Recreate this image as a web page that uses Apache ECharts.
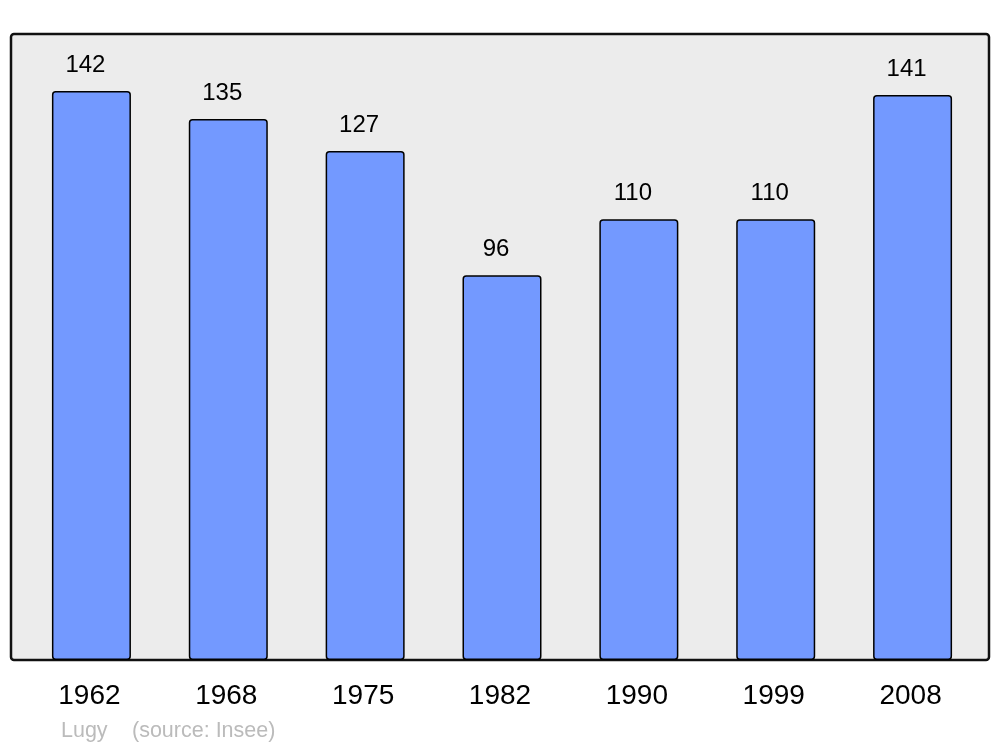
<!DOCTYPE html>
<html>
<head>
<meta charset="utf-8">
<script src="https://cdn.jsdelivr.net/npm/echarts@6/dist/echarts.min.js"></script>
<style>
  html, body { margin: 0; padding: 0; background: #fff; }
  #chart { width: 1000px; height: 747px; }
</style>
</head>
<body>
<div id="chart"></div>
<script>
// population by census year
const years = ['1962', '1968', '1975', '1982', '1990', '1999', '2008'];
const population = [142, 135, 127, 96, 110, 110, 141];
const sourceText = ['Lugy', '(source: Insee)'];

const chart = echarts.init(document.getElementById('chart'));

const option = {
  animation: false,
  textStyle: { fontFamily: '"Liberation Sans", Arial, sans-serif' },
  graphic: [
    {
      type: 'rect',
      z: -10,
      shape: { x: 11, y: 34, width: 978, height: 626, r: 3 },
      style: { fill: '#ececec', stroke: '#111', lineWidth: 2.5 }
    },
    {
      type: 'text',
      left: 61,
      top: 720,
      style: { text: sourceText[0], fill: '#bbbbbb', font: '21.5px "Liberation Sans", Arial, sans-serif' }
    },
    {
      type: 'text',
      left: 132,
      top: 720,
      style: { text: sourceText[1], fill: '#bbbbbb', font: '21.5px "Liberation Sans", Arial, sans-serif' }
    }
  ],
  grid: {
    left: 23,
    right: 19,
    top: 34,
    bottom: 87
  },
  xAxis: {
    type: 'category',
    data: years,
    axisLine: { show: false },
    axisTick: { show: false },
    axisLabel: { color: '#000', fontSize: 28, margin: 22, padding: [0, 4, 0, 0] }
  },
  yAxis: {
    type: 'value',
    min: 0,
    max: 156.2,
    show: false,
    splitLine: { show: false }
  },
  series: [
    {
      type: 'bar',
      data: population,
      barWidth: 79,
      itemStyle: {
        color: '#7399ff',
        borderColor: '#000',
        borderWidth: 1.5,
        borderRadius: 3
      },
      label: {
        show: true,
        position: 'top',
        distance: 14,
        offset: [-6, 0],
        color: '#000',
        fontSize: 24
      }
    }
  ]
};

chart.setOption(option);
</script>
</body>
</html>
